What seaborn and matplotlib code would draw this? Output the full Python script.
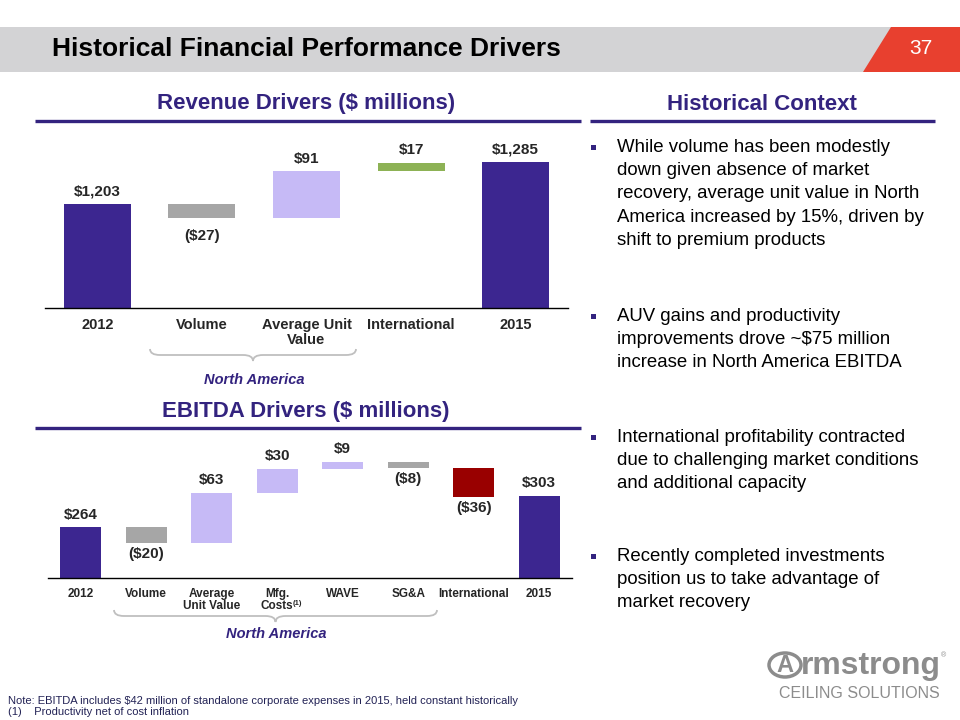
import numpy as np
import matplotlib
matplotlib.use("Agg")
import matplotlib.pyplot as plt
from matplotlib.patches import Polygon, Rectangle, Circle, PathPatch
from matplotlib.path import Path
from matplotlib.lines import Line2D
import pandas as pd
import seaborn as sns

# ---- data -------------------------------------------------------------
rev_categories = ["2012", "Volume", "Average Unit Value", "International", "2015"]
rev_ticklabels = ["2012", "Volume", "Average Unit\nValue", "International", "2015"]
rev_values = [1203, -27, 91, 17, 1285]
rev_labels = ["$1,203", "($27)", "$91", "$17", "$1,285"]
rev_kinds = ["total", "neg", "pos", "intl", "total"]

ebitda_categories = ["2012", "Volume", "Average Unit Value", "Mfg. Costs", "WAVE",
                     "SG&A", "International", "2015"]
ebitda_ticklabels = ["2012", "Volume", "Average\nUnit Value", "Mfg.\nCosts", "WAVE",
                     "SG&A", "International", "2015"]
ebitda_values = [264, -20, 63, 30, 9, -8, -36, 303]
ebitda_labels = ["$264", "($20)", "$63", "$30", "$9", "($8)", "($36)", "$303"]
ebitda_kinds = ["total", "neg", "pos", "pos", "pos", "neg", "intl_neg", "total"]

bullets = [
    "While volume has been modestly\ndown given absence of market\nrecovery, average unit value in North\nAmerica increased by 15%, driven by\nshift to premium products",
    "AUV gains and productivity\nimprovements drove ~$75 million\nincrease in North America EBITDA",
    "International profitability contracted\ndue to challenging market conditions\nand additional capacity",
    "Recently completed investments\nposition us to take advantage of\nmarket recovery",
]

PURPLE = "#3C2690"
HEAD = "#33237F"
colors = {"total": PURPLE, "neg": "#A6A6A6", "pos": "#C6BAF6",
          "intl": "#8DB255", "intl_neg": "#990000"}

W, H = 960, 720
FONT = "Liberation Sans"


def fx(x):
    return x / W


def fy(y):
    return 1 - y / H


def waterfall_frame(categories, values, kinds):
    bottoms, heights = [], []
    running = 0
    for v, k in zip(values, kinds):
        if k == "total":
            bottoms.append(0)
            heights.append(v)
            running = v
        else:
            start, end = running, running + v
            bottoms.append(min(start, end))
            heights.append(abs(v))
            running = end
    return pd.DataFrame({"cat": categories, "height": heights, "bottom": bottoms,
                         "top": np.array(bottoms) + np.array(heights), "kind": kinds})


def draw_waterfall(ax, categories, values, labels, kinds, ticklabels, ylim,
                   width, label_size, tick_size, neg_offset=-3, tick_spacing=1.0):
    df = waterfall_frame(categories, values, kinds)
    sns.barplot(data=df, x="cat", y="height", bottom=df["bottom"].tolist(),
                color=PURPLE, width=width, errorbar=None, ax=ax,
                order=categories, linewidth=0)
    for p, k in zip(ax.patches, df["kind"]):
        p.set_facecolor(colors[k])
        p.set_edgecolor("none")
    for i, (lab, k, v) in enumerate(zip(labels, df["kind"], values)):
        if k != "total" and v < 0:
            ax.annotate(lab, (i, df["bottom"][i]), xytext=(0, neg_offset),
                        textcoords="offset points", ha="center", va="top",
                        fontsize=label_size, fontweight="bold", family=FONT)
        else:
            ax.annotate(lab, (i, df["top"][i]), xytext=(0, 4),
                        textcoords="offset points", ha="center", va="bottom",
                        fontsize=label_size, fontweight="bold", family=FONT)
    n = len(categories)
    ax.set_xlim(-0.5, n - 0.5)
    ax.set_ylim(*ylim)
    ax.set_xlabel("")
    ax.set_ylabel("")
    ax.set_yticks([])
    ax.set_xticks(range(n))
    ax.set_xticklabels(ticklabels, fontsize=tick_size, fontweight="bold", family=FONT,
                       linespacing=tick_spacing)
    ax.set_xticks(np.arange(-0.5, n, 1), minor=True)
    ax.tick_params(axis="x", which="major", length=0, pad=7)
    ax.tick_params(axis="x", which="minor", length=5, width=1, color="black",
                   direction="out")
    for s in ["top", "right", "left"]:
        ax.spines[s].set_visible(False)
    ax.spines["bottom"].set_color("black")
    ax.spines["bottom"].set_linewidth(1.0)
    ax.patch.set_alpha(0)


def brace(fig, x0, x1, y0, h=6, r=10, color="#BFBFBF"):
    xm = (x0 + x1) / 2
    pts = [(x0, y0), (x0, y0 + h), (x0 + r, y0 + h),
           (xm - r, y0 + h),
           (xm, y0 + h), (xm, y0 + 2 * h),
           (xm, y0 + h), (xm + r, y0 + h),
           (x1 - r, y0 + h),
           (x1, y0 + h), (x1, y0)]
    codes = [Path.MOVETO, Path.CURVE3, Path.CURVE3, Path.LINETO,
             Path.CURVE3, Path.CURVE3, Path.CURVE3, Path.CURVE3,
             Path.LINETO, Path.CURVE3, Path.CURVE3]
    path = Path([(fx(x), fy(y)) for x, y in pts], codes)
    fig.patches.append(PathPatch(path, transform=fig.transFigure, facecolor="none",
                                 edgecolor=color, lw=1.3))


def hline(fig, x0, x1, y, color=HEAD, lw=2.4):
    fig.lines.append(Line2D([fx(x0), fx(x1)], [fy(y), fy(y)], transform=fig.transFigure,
                            color=color, lw=lw, solid_capstyle="butt"))


sns.set_style("white")
plt.rcParams["font.family"] = [FONT, "DejaVu Sans"]

fig = plt.figure(figsize=(9.6, 7.2), dpi=100)

# ---- header -----------------------------------------------------------
fig.patches.append(Rectangle((0, fy(72)), fx(892), (72 - 27) / H, transform=fig.transFigure,
                             facecolor="#D3D3D5", edgecolor="none"))
fig.patches.append(Polygon([(fx(891), fy(27)), (1, fy(27)), (1, fy(72)), (fx(863), fy(72))],
                           closed=True, transform=fig.transFigure,
                           facecolor="#E8402F", edgecolor="none"))
fig.text(fx(52), fy(49), "Historical Financial Performance Drivers", fontsize=19,
         fontweight="bold", va="center", ha="left", color="black")
fig.text(fx(921), fy(49), "37", fontsize=15, color="white", va="center", ha="center")

# ---- section headers ----------------------------------------------------
fig.text(fx(306), fy(104), "Revenue Drivers ($ millions)", fontsize=16,
         fontweight="bold", color=HEAD, ha="center", va="center")
fig.text(fx(762), fy(104), "Historical Context", fontsize=16,
         fontweight="bold", color=HEAD, ha="center", va="center")
fig.text(fx(306), fy(411), "EBITDA Drivers ($ millions)", fontsize=16,
         fontweight="bold", color=HEAD, ha="center", va="center")
hline(fig, 35, 581, 121)
hline(fig, 590, 935, 121)
hline(fig, 35, 581, 428)

# ---- revenue waterfall --------------------------------------------------
ax1 = fig.add_axes([fx(45), fy(308), (568 - 45) / W, (308 - 130) / H])
draw_waterfall(ax1, rev_categories, rev_values, rev_labels, rev_kinds, rev_ticklabels,
               ylim=(1000, 1348), width=0.64, label_size=11, tick_size=10.5,
               neg_offset=-8, tick_spacing=1.12)
brace(fig, 150, 356, 349)
fig.text(fx(254), fy(380), "North America", fontsize=10.5, fontweight="bold",
         style="italic", color=HEAD, ha="center", va="center")

# ---- EBITDA waterfall ---------------------------------------------------
ax2 = fig.add_axes([fx(48), fy(578), (572 - 48) / W, (578 - 430) / H])
draw_waterfall(ax2, ebitda_categories, ebitda_values, ebitda_labels, ebitda_kinds,
               ebitda_ticklabels, ylim=(200, 386), width=0.62, label_size=11,
               tick_size=8.5)
ax2.annotate("(1)", (3, 0), xycoords=("data", "axes fraction"), xytext=(11, -21),
             textcoords="offset points", fontsize=5.5, fontweight="bold",
             ha="left", va="bottom")
brace(fig, 114, 437, 610, h=6)
fig.text(fx(276), fy(634), "North America", fontsize=10.5, fontweight="bold",
         style="italic", color=HEAD, ha="center", va="center")

# ---- historical context bullets ----------------------------------------
bullet_y = [147, 316, 437, 556]
for y, txt in zip(bullet_y, bullets):
    fig.patches.append(Rectangle((fx(591), fy(y + 3)), 5 / W, 5 / H, transform=fig.transFigure,
                                 facecolor=HEAD, edgecolor="none"))
    fig.text(fx(617), fy(y - 8), txt, fontsize=13.4, ha="left", va="top",
             linespacing=1.48, color="black")

# ---- notes -----------------------------------------------------------------
fig.text(fx(8), fy(701), "Note: EBITDA includes $42 million of standalone corporate expenses in 2015, held constant historically",
         fontsize=8, va="center", ha="left", color="#222255")
fig.text(fx(8), fy(712), "(1)    Productivity net of cost inflation",
         fontsize=8, va="center", ha="left", color="#222255")

# ---- logo --------------------------------------------------------------
LOGO = "#8C8C8C"
fig.patches.append(Circle((fx(785), fy(665)), 16 / W, transform=fig.transFigure,
                          facecolor="none", edgecolor=LOGO, lw=2.5))
fig.text(fx(785), fy(666), "A", fontsize=17, fontweight="bold", color=LOGO,
         ha="center", va="center")
fig.text(fx(801), fy(666), "rmstrong", fontsize=23, fontweight="bold", color=LOGO,
         ha="left", va="center")
fig.text(fx(941), fy(656), "®", fontsize=5, color=LOGO, ha="left", va="center")
fig.text(fx(859), fy(693), "CEILING SOLUTIONS", fontsize=11.5, color=LOGO,
         ha="center", va="center")

fig.savefig("out.png", dpi=100)
